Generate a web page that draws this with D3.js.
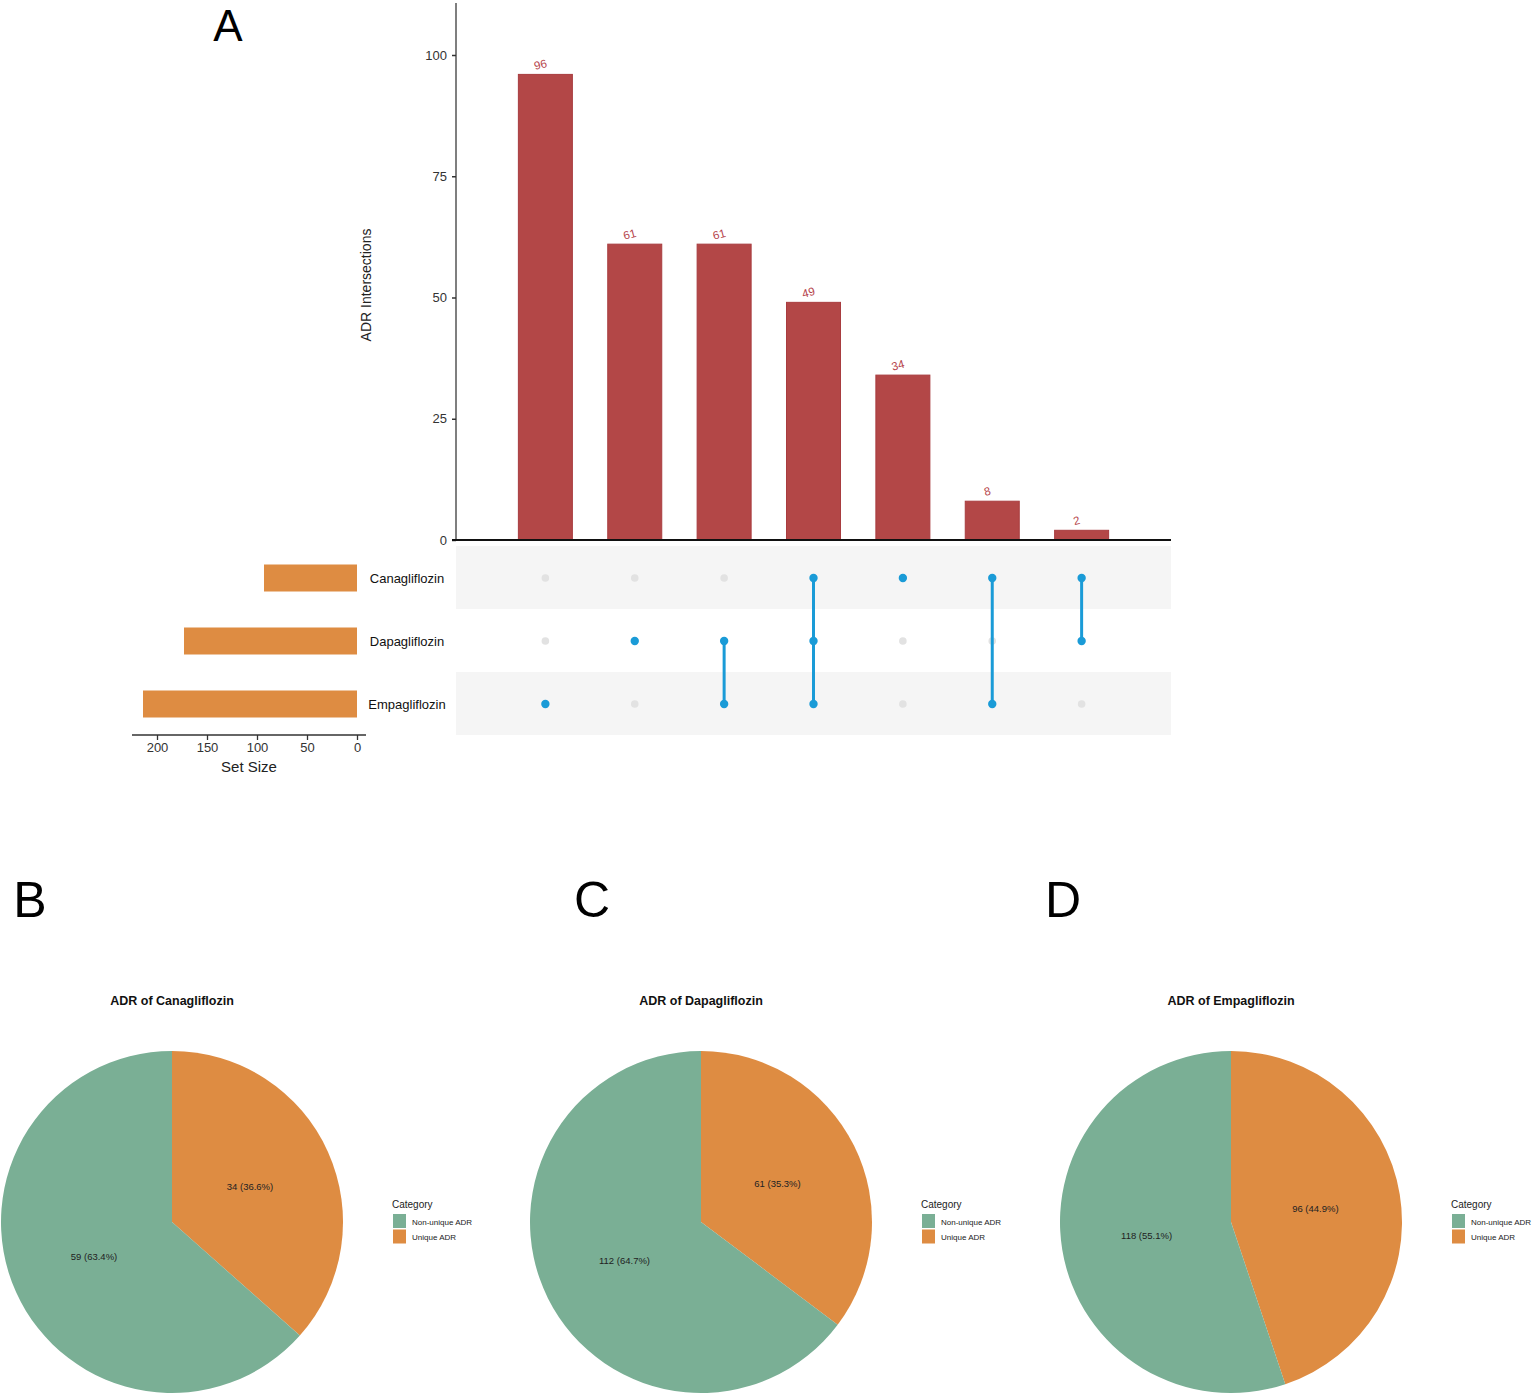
<!DOCTYPE html>
<html><head><meta charset="utf-8">
<script src="https://cdn.jsdelivr.net/npm/d3@7"></script>
<style>body{margin:0;background:#fff;}svg{display:block;font-family:"Liberation Sans",Arial,sans-serif;}</style>
</head><body>
<svg id="c" width="1535" height="1395"></svg>
<script>
const sets = ["Canagliflozin","Dapagliflozin","Empagliflozin"];
const setSizes = [93,173,214];
const intersectionCounts = [96,61,61,49,34,8,2];
const intersectionMembers = [
  ["Empagliflozin"],
  ["Dapagliflozin"],
  ["Dapagliflozin","Empagliflozin"],
  ["Canagliflozin","Dapagliflozin","Empagliflozin"],
  ["Canagliflozin"],
  ["Canagliflozin","Empagliflozin"],
  ["Canagliflozin","Dapagliflozin"]
];
const yTicks = [0,25,50,75,100];
const setTicks = [0,50,100,150,200];
const pieDrugs = ["Canagliflozin","Dapagliflozin","Empagliflozin"];
const pieCategories = ["Unique ADR","Non-unique ADR"];
const uniqueVals = [34,61,96];
const nonUniqueVals = [59,112,118];
const panelLetters = ["A","B","C","D"];

const svg = d3.select("#c");
const barColor = "#B34747", setColor = "#DE8C42", dotOn = "#1A9BD7", dotOff = "#E2E2E2";
const green = "#7AAF95", orange = "#DE8C42";

// Panel A
const x = d3.scalePoint().domain(d3.range(intersectionCounts.length)).range([456,1171]).padding(1);
const y = d3.scaleLinear().domain([0,110]).range([540, 540 - 110*(485/100)]);
const bw = 54;

// y axis
const ya = svg.append("g").attr("transform","translate(456,0)")
  .call(d3.axisLeft(y).tickValues(yTicks).tickSize(4).tickPadding(5));
ya.select(".domain").attr("stroke","#555").attr("stroke-width",1.5).attr("d","M0,3V540");
ya.selectAll(".tick line").attr("stroke","#333").attr("stroke-width",1.5);
ya.selectAll(".tick text").attr("font-size",13).attr("fill","#333").attr("font-family","Liberation Sans, Arial");
svg.append("text").attr("transform","translate(371,285) rotate(-90)")
  .attr("text-anchor","middle").attr("font-size",14).attr("fill","#222").text("ADR Intersections");

// matrix bands
const rowY = d3.scalePoint().domain(sets).range([578,704]);
sets.forEach((s,i)=>{
  if(i!==1) svg.append("rect").attr("x",456).attr("y",rowY(s)-32).attr("width",715).attr("height",63).attr("fill","#F5F5F5");
});

// bars
svg.append("g").selectAll("rect").data(intersectionCounts).join("rect")
  .attr("x",(d,i)=>x(i)-bw/2).attr("y",d=>y(d)).attr("width",bw).attr("height",d=>y(0)-y(d))
  .attr("fill",barColor).attr("stroke","#A83C3F").attr("stroke-width",1);
svg.append("g").selectAll("text").data(intersectionCounts).join("text")
  .attr("transform",(d,i)=>`translate(${x(i)-4},${y(d)-6}) rotate(-15)`)
  .attr("text-anchor","middle").attr("font-size",11.5).attr("fill","#B5434A").text(d=>d);
// x baseline
svg.append("line").attr("x1",452).attr("x2",1171).attr("y1",540).attr("y2",540).attr("stroke","#111").attr("stroke-width",2);

// dots: gray first, then lines, then blue
intersectionMembers.forEach((m,i)=>{
  sets.forEach(s=>{
    if(!m.includes(s)) svg.append("circle").attr("cx",x(i)).attr("cy",rowY(s)).attr("r",3.8).attr("fill",dotOff);
  });
});
intersectionMembers.forEach((m,i)=>{
  const ys = m.map(s=>rowY(s));
  if(ys.length>1) svg.append("line").attr("x1",x(i)).attr("x2",x(i)).attr("y1",d3.min(ys)).attr("y2",d3.max(ys))
    .attr("stroke",dotOn).attr("stroke-width",3);
  m.forEach(s=>{
    svg.append("circle").attr("cx",x(i)).attr("cy",rowY(s)).attr("r",4.2).attr("fill",dotOn);
  });
});

// set labels
sets.forEach(s=>{
  svg.append("text").attr("x",407).attr("y",rowY(s)+5).attr("text-anchor","middle")
    .attr("font-size",13).attr("fill","#111").text(s);
});

// set size bars
const sx = d3.scaleLinear().domain([0,200]).range([357,157]);
svg.append("g").selectAll("rect").data(setSizes).join("rect")
  .attr("x",d=>sx(d)).attr("y",(d,i)=>rowY(sets[i])-13.5).attr("width",d=>sx(0)-sx(d)).attr("height",27)
  .attr("fill",setColor);
const sa = svg.append("g").attr("transform","translate(0,735)")
  .call(d3.axisBottom(sx).tickValues(setTicks).tickSize(5).tickPadding(3));
sa.select(".domain").attr("stroke","#333").attr("stroke-width",1.3).attr("d","M132,0H366");
sa.selectAll(".tick line").attr("stroke","#333").attr("stroke-width",1.3);
sa.selectAll(".tick text").attr("font-size",13).attr("fill","#333").attr("font-family","Liberation Sans, Arial");
svg.append("text").attr("x",249).attr("y",772).attr("text-anchor","middle").attr("font-size",15).attr("fill","#222").text("Set Size");

// Panel letters
const letterPos = [[228,41],[30,917],[592,917],[1063,917]];
panelLetters.forEach((l,i)=>{
  svg.append("text").attr("x",letterPos[i][0]).attr("y",letterPos[i][1]).attr("text-anchor","middle")
    .attr("font-size",i===0?44:50).attr("fill","#000").text(l);
});

// Pies
const centers = [172,701,1231];
const R = 171;
const pie = d3.pie().sort(null).value(d=>d.v);
const arc = d3.arc().innerRadius(0).outerRadius(R);
const labelArc = d3.arc().innerRadius(R/2).outerRadius(R/2);
pieDrugs.forEach((drug,i)=>{
  const g = svg.append("g").attr("transform",`translate(${centers[i]},1222)`);
  const tot = uniqueVals[i]+nonUniqueVals[i];
  const data = [{c:pieCategories[0],v:uniqueVals[i]},{c:pieCategories[1],v:nonUniqueVals[i]}];
  const arcs = pie(data);
  g.selectAll("path").data(arcs).join("path").attr("d",arc)
    .attr("fill",d=>d.data.c==="Unique ADR"?orange:green);
  g.selectAll("text.lab").data(arcs).join("text").attr("class","lab")
    .attr("transform",d=>`translate(${labelArc.centroid(d)})`).attr("text-anchor","middle").attr("dy","0.35em")
    .attr("font-size",9.5).attr("fill","#222")
    .text(d=>`${d.data.v} (${(d.data.v/tot*100).toFixed(1)}%)`);
  svg.append("text").attr("x",centers[i]).attr("y",1005).attr("text-anchor","middle")
    .attr("font-size",12.5).attr("font-weight","bold").attr("fill","#111").text("ADR of "+drug);
  // legend
  const lx = centers[i]+220;
  svg.append("text").attr("x",lx).attr("y",1208).attr("font-size",10).attr("fill","#222").text("Category");
  [["Non-unique ADR",green],["Unique ADR",orange]].forEach((it,k)=>{
    svg.append("rect").attr("x",lx+1).attr("y",1214+k*15.5).attr("width",13).attr("height",14).attr("fill",it[1]);
    svg.append("text").attr("x",lx+20).attr("y",1224.5+k*15.5).attr("font-size",8).attr("fill","#222").text(it[0]);
  });
});
</script>
</body></html>
